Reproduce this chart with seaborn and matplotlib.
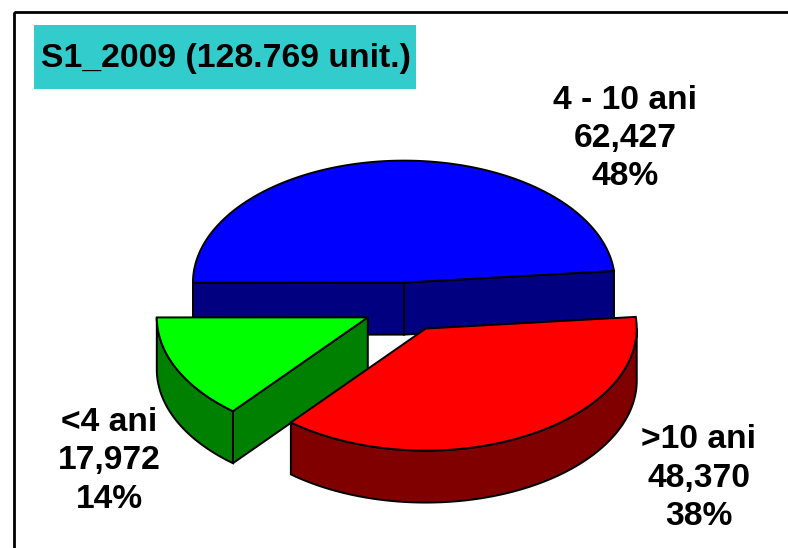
import numpy as np
import matplotlib
matplotlib.use("Agg")
import matplotlib.pyplot as plt
from matplotlib.patches import Polygon, Rectangle
import seaborn as sns

# ---- data ----
categories = ["4 - 10 ani", "<4 ani", ">10 ani"]
values = [62427, 17972, 48370]
title_prefix = "S1_2009"
top_colors = ["#0000FF", "#00FF00", "#FF0000"]
side_colors = ["#000080", "#008000", "#800000"]

# ---- layout ----
W, H = 788, 548
CX, CY = 406, 307          # pie centre (pixel space)
RA, RB = 211, 122          # ellipse semi-axes
DEPTH = 52
EXPLODE = 0.2
START = 5.5                # degrees, counter-clockwise
label_pos = [(625, 138.5), (109, 461), (699, 478)]
label_spacing = [1.28, 1.32, 1.3]

sns.set_theme(style="white")
plt.rcParams["font.family"] = ["Liberation Sans", "DejaVu Sans"]

fig = plt.figure(figsize=(W / 100, H / 100), dpi=100)
ax = fig.add_axes([0, 0, 1, 1])
ax.set_xlim(0, W)
ax.set_ylim(H, 0)
ax.axis("off")

total = sum(values)
fracs = np.array(values) / total
angles = np.concatenate([[START], START + np.cumsum(fracs) * 360])


def pt(theta, r, z, off):
    t = np.deg2rad(theta)
    return (CX + off[0] + r * RA * np.cos(t), CY + off[1] - r * RB * np.sin(t) + z)


lw = 1.4
for i in range(len(values)):
    t1, t2 = angles[i], angles[i + 1]
    mid = np.deg2rad((t1 + t2) / 2)
    off = (EXPLODE * RA * np.cos(mid), -EXPLODE * RB * np.sin(mid))
    z0 = 10 * i
    # radial walls
    for t, visible in ((t1, np.cos(np.deg2rad(t1)) > 0), (t2, np.cos(np.deg2rad(t2)) < 0)):
        if visible:
            poly = [pt(t, 0, 0, off), pt(t, 1, 0, off), pt(t, 1, DEPTH, off), pt(t, 0, DEPTH, off)]
            ax.add_patch(Polygon(poly, closed=True, facecolor=side_colors[i], edgecolor="black",
                                 lw=lw, zorder=z0 + 1))
    # outer wall (front part only)
    a_lo, a_hi = max(t1, 180), min(t2, 360)
    if a_hi > a_lo:
        ts = np.linspace(a_lo, a_hi, 120)
        topc = [pt(t, 1, 0, off) for t in ts]
        botc = [pt(t, 1, DEPTH, off) for t in ts[::-1]]
        ax.add_patch(Polygon(topc + botc, closed=True, facecolor=side_colors[i], edgecolor="black",
                             lw=lw, zorder=z0 + 2))
    # top face
    ts = np.linspace(t1, t2, 200)
    poly = [pt(t1, 0, 0, off)] + [pt(t, 1, 0, off) for t in ts]
    ax.add_patch(Polygon(poly, closed=True, facecolor=top_colors[i], edgecolor="black",
                         lw=lw, zorder=z0 + 3))

# labels
for i, (cat, v) in enumerate(zip(categories, values)):
    txt = f"{cat}\n{v:,}\n{round(v / total * 100):.0f}%"
    ax.text(label_pos[i][0], label_pos[i][1], txt, ha="center", va="center",
            fontsize=24.2, fontweight="bold", linespacing=label_spacing[i], color="black", zorder=50)

# title box
ax.add_patch(Rectangle((34, 25), 382, 64, facecolor="#33CCCC", edgecolor="none", zorder=40))
ax.text(41, 58, f"{title_prefix} ({total:,} unit.)".replace(",", "."), ha="left", va="center",
        fontsize=24.3, fontweight="bold", color="black", zorder=41)

# outer frame
ax.add_patch(Rectangle((14, 12), W, H, fill=False, edgecolor="black", lw=2.0, zorder=60))

fig.savefig("out.png", dpi=100)
